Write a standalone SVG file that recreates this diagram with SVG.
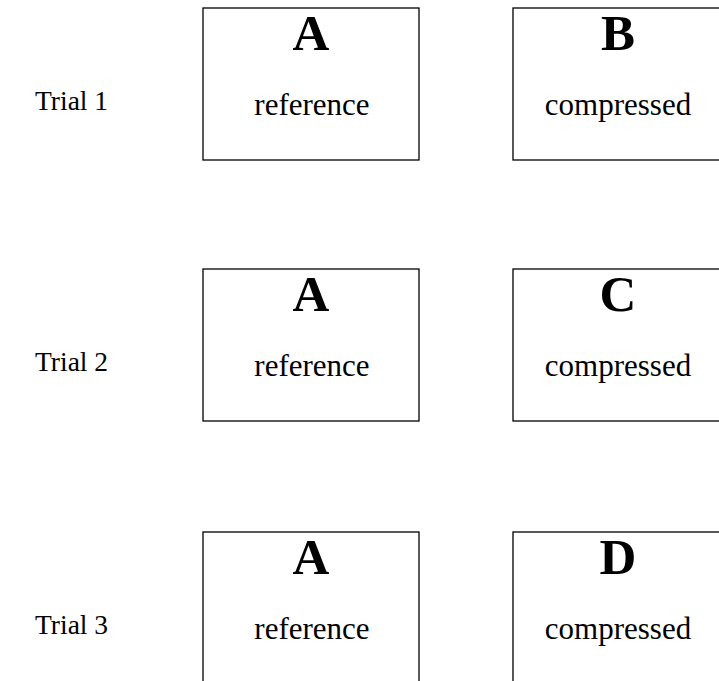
<svg xmlns="http://www.w3.org/2000/svg" width="719" height="681" viewBox="0 0 719 681">
<style>
.box{fill:#fff;stroke:#000;stroke-width:1.3}
.big{font-family:"Liberation Serif","Times New Roman",serif;font-weight:bold;font-size:51px;text-anchor:middle;fill:#000}
.sub{font-family:"Liberation Serif","Times New Roman",serif;font-size:31px;text-anchor:middle;fill:#000}
.trial{font-family:"Liberation Serif","Times New Roman",serif;font-size:27.5px;fill:#000}
</style>
<rect width="719" height="681" fill="#fff"/>
<g id="trial1">
<text class="trial" x="35" y="110">Trial 1</text>
<g id="t1a"><rect class="box" x="203" y="8" width="216" height="152"/><text class="big" x="311" y="50">A</text><text class="sub" x="312" y="115">reference</text></g>
<g id="t1b"><rect class="box" x="513" y="8" width="210" height="152"/><text class="big" x="618" y="50">B</text><text class="sub" x="618" y="115">compressed</text></g>
</g>
<g id="trial2">
<text class="trial" x="35" y="371">Trial 2</text>
<g id="t2a"><rect class="box" x="203" y="269" width="216" height="152"/><text class="big" x="311" y="311">A</text><text class="sub" x="312" y="376">reference</text></g>
<g id="t2c"><rect class="box" x="513" y="269" width="210" height="152"/><text class="big" x="618" y="311">C</text><text class="sub" x="618" y="376">compressed</text></g>
</g>
<g id="trial3">
<text class="trial" x="35" y="634">Trial 3</text>
<g id="t3a"><rect class="box" x="203" y="532" width="216" height="152"/><text class="big" x="311" y="574">A</text><text class="sub" x="312" y="639">reference</text></g>
<g id="t3d"><rect class="box" x="513" y="532" width="210" height="152"/><text class="big" x="618" y="574">D</text><text class="sub" x="618" y="639">compressed</text></g>
</g>
<g id="connectors"/>
</svg>
